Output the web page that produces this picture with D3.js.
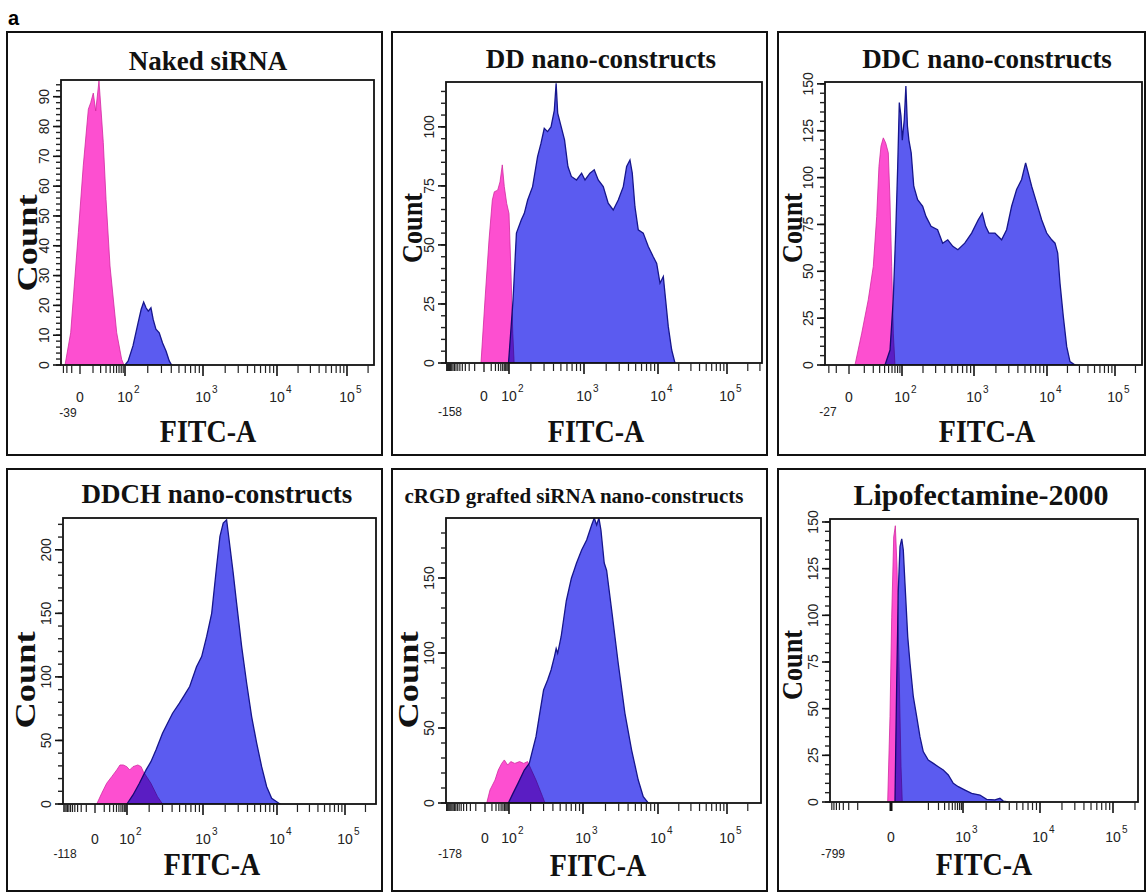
<!DOCTYPE html>
<html>
<head>
<meta charset="utf-8">
<script src="https://cdn.jsdelivr.net/npm/d3@7"></script>
<style>
  body { margin: 0; background: #fff; }
  svg { display: block; }
</style>
</head>
<body>
<svg id="fig" width="1147" height="893"></svg>
<script>
// ---- data (fluorescence value, count) ----
const panelTitles = ['Naked siRNA', 'DD nano-constructs', 'DDC nano-constructs',
  'DDCH nano-constructs', 'cRGD grafted siRNA nano-constructs', 'Lipofectamine-2000'];
const lowLimits = [-39, -158, -27, -118, -178, -799];
const countMax = [95.6, 119, 151, 225, 190, 151.6];
const countTickLabels = [
  [0, 10, 20, 30, 40, 50, 60, 70, 80, 90],
  [0, 25, 50, 75, 100],
  [0, 25, 50, 75, 100, 125, 150],
  [0, 50, 100, 150, 200],
  [0, 50, 100, 150],
  [0, 25, 50, 75, 100, 125, 150]
];
const fitcTickLabels = [
  [0, 100, 1000, 10000, 100000],
  [0, 100, 1000, 10000, 100000],
  [0, 100, 1000, 10000, 100000],
  [0, 100, 1000, 10000, 100000],
  [0, 100, 1000, 10000, 100000],
  [0, 1000, 10000, 100000]
];

const pinkNaked = [[-25,0],[-11.8,10.8],[-1.5,44.4],[1.9,66.8],[5.6,85.8],[7.7,88],[10.3,91.2],
  [13.1,85.2],[17.5,95.3],[20.6,85.8],[24.6,74.6],[30,55.6],[39.5,33.2],[60.7,10.8],[82,1.9],[94,0]];
const blueNaked = [[100,0],[110,1.3],[128,6.4],[148,13.6],[164,18.6],[177,21.1],[190,19.2],[203,18.1],
  [220,19.2],[235,15.3],[255,12],[281,10.8],[310,7.4],[343,4.7],[378,1.3],[404,0]];

const pinkDD = [[-2.5,0],[1,26.7],[6.2,52.1],[12.2,69],[16.9,72.5],[27.2,73.2],[36.4,76.7],[47.8,83.9],
  [60,74.7],[78,67.6],[100,63.3],[106,40.8],[113,12.6],[118,0]];
const blueDD = [[95,0],[114,26.7],[127,55],[148,60.6],[163,63.4],[181,69],[211,74.7],[246,87.4],[273,93],
  [302,99.4],[334,98],[371,100],[410,107],[433,118.5],[454,105.8],[505,100],[558,94.5],[618,83.2],
  [685,79],[800,77.5],[931,80.4],[1032,77.5],[1205,80.4],[1377,81.8],[1560,77.5],[1824,74.7],
  [2128,67.7],[2489,64.8],[2911,69],[3404,74.7],[3776,83.2],[4188,86],[4498,80.4],[4887,66.2],
  [5420,56.4],[6324,55],[7396,49.3],[8630,45],[9600,42.2],[10690,33.8],[11940,36.6],[12620,29.5],
  [14100,15.4],[15800,5.5],[17630,0]];

const pinkDDC = [[3.1,0],[7.8,17],[13.9,34.8],[20,52.6],[25,79.3],[28.8,106],[32.5,116.8],[37.2,121.2],
  [42.6,118.5],[49.2,113.2],[53.9,88],[59,52.6],[64.2,17],[70,0]];
const blueDDC = [[41,0],[54,8],[64,34.8],[72.7,70.4],[80.6,106],[87.4,140],[95,132.8],[101,120],[108,131],
  [114,148.8],[120,127.5],[126,120],[136,113.2],[148,95.4],[168,88.2],[198,84.7],[220,79.3],[259,74],
  [319,72.2],[375,65],[440,66.8],[516,63.3],[605,61.5],[750,65],[929,70.4],[1145,77.5],[1300,81],
  [1446,74],[1603,70.4],[1941,70.4],[2395,66.8],[2805,72.2],[3284,84.7],[3843,93.6],[4499,99],
  [5105,107.8],[5543,102.5],[6170,95.4],[7222,86.5],[8455,77.5],[9900,70.4],[11730,66.8],[13120,65],
  [14370,59.7],[15530,43.7],[17380,25.8],[19500,9.8],[21800,1.8],[25800,0]];

const pinkDDCH = [[1.4,0],[6.5,8.4],[14,16.3],[25,21.5],[41,26.8],[55,30.7],[73,30.7],[98,29.4],[109,26.8],
  [121,29.4],[141,30.7],[156,29.4],[167,25.5],[211,16.3],[258,5.8],[300,0]];
const blueDDCH = [[99,0],[121,7.1],[148,16.3],[182,26.8],[211,33.3],[246,42.5],[300,55.6],[349,63.5],
  [406,71.4],[498,79.3],[580,85.8],[675,92.4],[826,108],[961,116],[1122,131.8],[1312,150],[1531,187],
  [1698,210.5],[1880,221],[2089,223.6],[2317,202.6],[2566,181.6],[2851,158],[3334,124],[3899,95],
  [4550,68.8],[5321,47.8],[6209,29.4],[7261,13.6],[8472,4.5],[9900,1.8],[11070,0]];

const pinkRGD = [[1.9,0],[6.5,8.7],[17.2,15.3],[27.8,22],[43,26.4],[58.8,28.7],[86.6,25.3],[106,27.6],
  [121,26.4],[141,27.6],[161,26.4],[182,27.6],[237,15.3],[291,4.2],[313,0]];
const blueRGD = [[93,0],[114,6.4],[134,13.1],[164,22],[192,26.4],[213,35.3],[237,44.2],[262,57.6],
  [300,75.3],[340,82],[378,88.7],[419,97.6],[442,103],[463,99.8],[515,111],[603,135],[703,149.8],
  [762,155],[822,160],[960,168.7],[1120,175.3],[1306,185.3],[1415,190],[1524,185.3],[1633,190],
  [1738,182],[1923,160],[2070,155],[2414,128.7],[2958,93],[3631,59.8],[4457,35.3],[5458,15.3],
  [6368,4.2],[7430,0]];

const pinkLipo = [[-2.7,0],[-0.75,45.7],[0.46,99],[1.9,142],[3.2,148],[4.7,126],[6.7,72.5],[9,18.9],[10.6,0]];
const blueLipo = [[2.9,0],[4.4,63.6],[6,113.6],[7.8,136.8],[9.9,141],[12,135],[14.5,117],[19.2,88.6],
  [23.8,74.3],[31.8,56.4],[41.9,45.7],[54,35],[69,27],[99,22.5],[141,20.7],[197,18.9],[275,17.1],
  [384,14.5],[532,10],[738,8.2],[1062,6.4],[1297,4.6],[1663,3.75],[2032,1.4],[2606,1.1],[3027,2],
  [3342,0.5],[3882,0]];

const controlSeries = [pinkNaked, pinkDD, pinkDDC, pinkDDCH, pinkRGD, pinkLipo];
const treatedSeries = [blueNaked, blueDD, blueDDC, blueDDCH, blueRGD, blueLipo];

// ---- layout (pixel geometry of each panel) ----
const layout = [
  {box: [7, 32, 382, 455], L: 61, R: 374, top: 80, y0: 365, ax: [80, 125, 203, 277, 347],
   title: [208, 70, 27], fitc: [208, 442], count: [37, 243, 97], lo: [68, 417], lab: 37, linStep: 10, yMinor: 2},
  {box: [392, 32, 767, 455], L: 446, R: 762, top: 82, y0: 363, ax: [484, 509, 584, 658, 727],
   title: [601, 68, 27], fitc: [596, 442], count: [422, 228, 70], lo: [450, 416], lab: 38, linStep: 10, yMinor: 5},
  {box: [778, 32, 1145, 455], L: 825, R: 1142, top: 82, y0: 365, ax: [849, 902, 974, 1047, 1115],
   title: [987, 68, 27], fitc: [987, 442], count: [802, 228, 70], lo: [828, 416], lab: 37, linStep: 10, yMinor: 5},
  {box: [7, 469, 382, 891], L: 63, R: 376, top: 518, y0: 804, ax: [95, 127, 203, 277, 345],
   title: [217, 503, 27], fitc: [212, 875], count: [35, 680, 97], lo: [65, 858], lab: 40, linStep: 10, yMinor: 10},
  {box: [392, 469, 767, 891], L: 446, R: 761, top: 518, y0: 803, ax: [485, 509, 583, 658, 727],
   title: [574, 503, 21], fitc: [598, 876], count: [418, 680, 97], lo: [450, 858], lab: 40, linStep: 10, yMinor: 10},
  {box: [778, 469, 1145, 891], L: 830, R: 1138, top: 519, y0: 802, ax: [891, 963, 1040, 1113],
   title: [981, 505, 30], fitc: [984, 875], count: [802, 665, 70], lo: [833, 858], lab: 40, linStep: 100, yMinor: 5, zeroTick: 3}
];

const pinkFill = '#fd4fd0';
const pinkLine = '#d1289f';
const blueFill = '#5b5bf0';
const blueLine = '#16168c';
const serif = '"Liberation Serif", "Times New Roman", serif';
const sans = '"Liberation Sans", Arial, sans-serif';

const svg = d3.select('#fig');
svg.append('rect').attr('width', 1147).attr('height', 893).attr('fill', '#fff');

svg.append('text')
  .attr('x', 8).attr('y', 25)
  .style('font-family', sans).style('font-weight', 'bold').style('font-size', '20px')
  .text('a');

layout.forEach((p, i) => {
  const g = svg.append('g');
  const lo = lowLimits[i];
  const labels = fitcTickLabels[i];

  // outer box
  g.append('rect')
    .attr('x', p.box[0]).attr('y', p.box[1])
    .attr('width', p.box[2] - p.box[0]).attr('height', p.box[3] - p.box[1])
    .attr('fill', 'none').attr('stroke', '#111').attr('stroke-width', 2);

  // biexponential-like x axis: symlog pinned at 0 and each decade
  const x = d3.scaleSymlog().constant(10)
    .domain([lo].concat(labels))
    .range([p.L].concat(p.ax));
  const y = d3.scaleLinear().domain([0, countMax[i]]).range([p.y0, p.top]);

  const clipId = 'clip' + i;
  g.append('clipPath').attr('id', clipId)
    .append('rect').attr('x', p.L).attr('y', p.top).attr('width', p.R - p.L).attr('height', p.y0 - p.top);

  const area = d3.area()
    .x(d => x(d[0]))
    .y0(y(0))
    .y1(d => y(d[1]));

  const hist = g.append('g').attr('clip-path', `url(#${clipId})`).style('isolation', 'isolate');
  hist.append('path')
    .attr('d', area(controlSeries[i]))
    .attr('fill', pinkFill).attr('stroke', pinkLine).attr('stroke-width', 0.8);
  hist.append('path')
    .attr('d', area(treatedSeries[i]))
    .attr('fill', blueFill).attr('stroke', blueLine).attr('stroke-width', 1.3)
    .style('mix-blend-mode', 'multiply');

  // plot frame
  g.append('rect')
    .attr('x', p.L).attr('y', p.top).attr('width', p.R - p.L).attr('height', p.y0 - p.top)
    .attr('fill', 'none').attr('stroke', '#111').attr('stroke-width', 1.8);

  // x ticks
  const xMinor = d3.range(Math.ceil(lo / p.linStep) * p.linStep, labels[1], p.linStep).filter(v => v !== 0);
  labels.slice(1).forEach(d => {
    for (let k = 2; k <= 9; k++) xMinor.push(k * d);
  });
  g.append('g').selectAll('line')
    .data(xMinor.filter(v => x(v) <= p.R - 2))
    .enter().append('line')
    .attr('x1', d => x(d)).attr('x2', d => x(d))
    .attr('y1', p.y0).attr('y2', p.y0 + 8)
    .attr('stroke', '#222').attr('stroke-width', 1.2);
  g.append('g').selectAll('line')
    .data(labels)
    .enter().append('line')
    .attr('x1', d => x(d)).attr('x2', d => x(d))
    .attr('y1', p.y0).attr('y2', d => p.y0 + (d === 0 ? 9 : 11))
    .attr('stroke', '#111').attr('stroke-width', d => d === 0 ? (p.zeroTick || 1.3) : 1.6);

  // x tick labels
  const xl = g.append('g')
    .style('font-family', sans).style('font-size', '14px').attr('fill', '#222');
  labels.forEach(v => {
    if (v === 0) {
      xl.append('text').attr('x', x(v)).attr('y', p.y0 + p.lab)
        .attr('text-anchor', 'middle').text('0');
    } else {
      xl.append('text').attr('x', x(v)).attr('y', p.y0 + p.lab)
        .attr('text-anchor', 'middle').text('10');
      xl.append('text').attr('x', x(v) + 9).attr('y', p.y0 + p.lab - 9)
        .style('font-size', '10px').text(String(Math.round(Math.log10(v))));
    }
  });
  xl.append('text').attr('x', p.lo[0]).attr('y', p.lo[1])
    .attr('text-anchor', 'middle').style('font-size', '12px').text(String(lo));

  // y ticks
  const yMinor = d3.range(0, countMax[i], p.yMinor);
  g.append('g').selectAll('line')
    .data(yMinor)
    .enter().append('line')
    .attr('x1', p.L - 5).attr('x2', p.L)
    .attr('y1', d => y(d)).attr('y2', d => y(d))
    .attr('stroke', '#222').attr('stroke-width', 1.4);
  g.append('g').selectAll('line')
    .data(countTickLabels[i])
    .enter().append('line')
    .attr('x1', p.L - 8).attr('x2', p.L)
    .attr('y1', d => y(d)).attr('y2', d => y(d))
    .attr('stroke', '#111').attr('stroke-width', 1.6);
  g.append('g').selectAll('text')
    .data(countTickLabels[i])
    .enter().append('text')
    .attr('transform', d => `translate(${p.L - 12},${y(d)}) rotate(-90)`)
    .attr('text-anchor', 'middle')
    .style('font-family', sans).style('font-size', '14px').attr('fill', '#222')
    .text(d => d);

  // titles
  g.append('text')
    .attr('x', p.title[0]).attr('y', p.title[1])
    .attr('text-anchor', 'middle')
    .style('font-family', serif).style('font-weight', 'bold').style('font-size', p.title[2] + 'px')
    .attr('fill', '#111')
    .text(panelTitles[i]);

  g.append('text')
    .attr('transform', `translate(${p.fitc[0]},${p.fitc[1]}) scale(1,1.12)`)
    .attr('text-anchor', 'middle')
    .style('font-family', serif).style('font-weight', 'bold').style('font-size', '28px')
    .attr('fill', '#111')
    .text('FITC-A');

  g.append('text')
    .attr('transform', `translate(${p.count[0]},${p.count[1]}) rotate(-90)`)
    .attr('text-anchor', 'middle')
    .attr('textLength', p.count[2]).attr('lengthAdjust', 'spacingAndGlyphs')
    .style('font-family', serif).style('font-weight', 'bold').style('font-size', '29px')
    .attr('fill', '#111')
    .text('Count');
});
</script>
</body>
</html>
